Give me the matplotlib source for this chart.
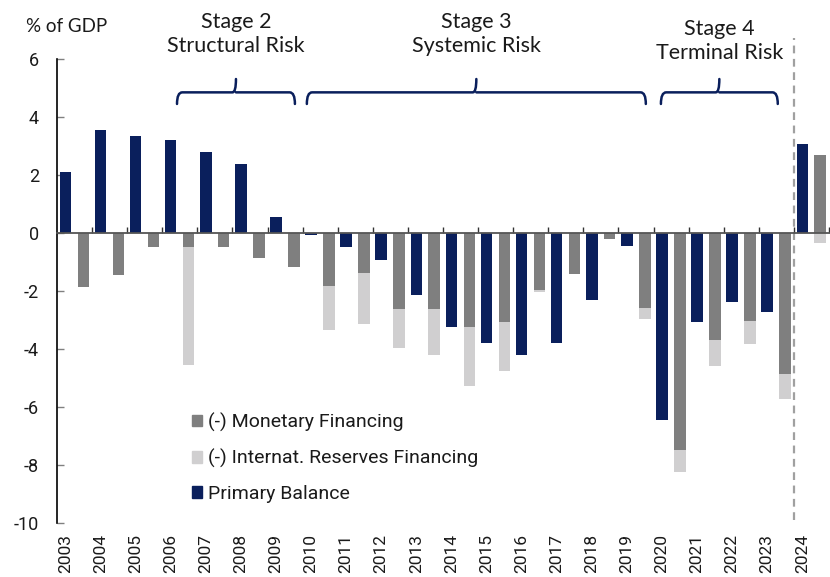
import matplotlib.pyplot as plt
import numpy as np
from matplotlib.path import Path
from matplotlib.patches import PathPatch, Patch

################################################################################
# Data
################################################################################
YEARS = [str(y) for y in range(2003, 2025)]

PRIMARY_BALANCE = [2.12, 3.56, 3.37, 3.23, 2.79, 2.38, 0.55, -0.05, -0.48, -0.92,
                   -2.13, -3.22, -3.77, -4.20, -3.79, -2.30, -0.44, -6.44, -3.05,
                   -2.38, -2.70, 3.08]
MONETARY_FIN = [-1.84, -1.44, -0.46, -0.48, -0.46, -0.84, -1.15, -1.81, -1.36, -2.61,
                -2.61, -3.22, -3.06, -1.96, -1.40, -0.20, -2.59, -7.47, -3.68,
                -3.02, -4.86, 2.70]
RESERVES_FIN = [0.00, 0.00, 0.00, -4.06, 0.00, 0.00, 0.00, -1.52, -1.77, -1.33,
                -1.59, -2.05, -1.68, -0.05, 0.00, 0.00, -0.35, -0.77, -0.90,
                -0.79, -0.86, -0.32]

STAGES = [
    ("Stage 2\nStructural Risk", 3.42, 6.78, 0),
    ("Stage 3\nSystemic Risk", 7.12, 16.78, 0),
    ("Stage 4\nTerminal Risk", 17.21, 20.54, 1),
]

LEGEND_LABELS = ["(-) Monetary Financing", "(-) Internat. Reserves Financing",
                 "Primary Balance"]

################################################################################
# Style
################################################################################
NAVY = "#0a1f5c"
GRAY = "#7f7f7f"
LIGHT = "#d0cfd0"
TEXT_FONT = ["Lato", "DejaVu Sans"]
TICK_FONT = ["Roboto", "DejaVu Sans"]

W, H = 830, 577

################################################################################
# Plot
################################################################################
fig = plt.figure(figsize=(W / 100, H / 100), dpi=100)
ax = fig.add_axes([57 / W, 1 - 523.3 / H, (829 - 57) / W, (523.3 - 59.3) / H])

x = np.arange(len(YEARS))
pb = np.array(PRIMARY_BALANCE)
mf = np.array(MONETARY_FIN)
rf = np.array(RESERVES_FIN)
rf_bottom = np.where(mf < 0, mf, 0)

ax.bar(x + 0.24, pb, width=0.33, color=NAVY, zorder=2)
ax.bar(x + 0.75, mf, width=0.33, color=GRAY, zorder=2)
ax.bar(x + 0.75, rf, width=0.33, bottom=rf_bottom, color=LIGHT, zorder=2)

ax.set_xlim(0, 22)
ax.set_ylim(-10, 6)
ax.set_yticks(np.arange(-10, 7, 2))
ax.set_yticklabels([str(v) for v in range(-10, 7, 2)], family=TICK_FONT,
                   fontsize=13, color="#1a1a1a")
ax.tick_params(axis="y", direction="in", length=5, width=1, color="#808080", pad=13)

ax.spines["top"].set_visible(False)
ax.spines["right"].set_visible(False)
ax.spines["left"].set_color("black")
ax.spines["left"].set_linewidth(1.2)
ax.spines["bottom"].set_position(("data", 0))
ax.spines["bottom"].set_color("#555555")
ax.spines["bottom"].set_linewidth(1.3)
ax.spines["bottom"].set_zorder(3)

ax.set_xticks(np.arange(1, 23))
ax.set_xticklabels([])
ax.tick_params(axis="x", direction="in", length=4, width=1, color="#333333")

sec = ax.secondary_xaxis(0.0)
sec.set_xticks(x + 0.24)
sec.set_xticklabels(YEARS, rotation=90, family=TICK_FONT, fontsize=12.5,
                    color="#1a1a1a", va="top")
sec.tick_params(length=0, pad=7.5)
sec.spines["bottom"].set_visible(False)

# forecast divider
ax.plot([21, 21], [-9.9, 6.75], color="#a0a0a0", lw=1.6, ls=(0, (3.5, 2.5)),
        clip_on=False, zorder=1)

# stage braces
def brace(x0, x1, y=4.86, drop=0.40, tip=0.46, r=0.15):
    xm = (x0 + x1) / 2
    verts = [(x0, y - drop), (x0, y), (x0 + r, y), (xm - 0.1, y), (xm, y),
             (xm, y + tip), (xm, y), (xm + 0.1, y), (x1 - r, y), (x1, y),
             (x1, y - drop)]
    codes = [Path.MOVETO, Path.CURVE3, Path.CURVE3, Path.LINETO, Path.CURVE3,
             Path.LINETO, Path.MOVETO, Path.CURVE3, Path.LINETO, Path.CURVE3,
             Path.CURVE3]
    return PathPatch(Path(verts, codes), fill=False, edgecolor=NAVY, lw=1.8,
                     capstyle="round", clip_on=False)

for label, x0, x1, shift in STAGES:
    ax.add_patch(brace(x0, x1))
    fig.text(((x0 + x1) / 2 * 35.1 + 57) / W, 1 - (34 + 7 * shift) / H, label,
             ha="center", va="center", family=TEXT_FONT, fontsize=15.5,
             linespacing=1.3, color="#1a1a1a")

fig.text(26 / W, 1 - 27 / H, "% of GDP", ha="left", va="center",
         family=TEXT_FONT, fontsize=13.5, color="#1a1a1a")

handles = [Patch(color=GRAY), Patch(color=LIGHT), Patch(color=NAVY)]
leg = fig.legend(handles, LEGEND_LABELS, loc="upper left",
                 bbox_to_anchor=(174 / W, 1 - 395 / H), frameon=False,
                 handlelength=0.56, handleheight=0.56, handletextpad=0.3,
                 labelspacing=0.88, prop={"family": TICK_FONT, "size": 14})
for t in leg.get_texts():
    t.set_color("#1a1a1a")

fig.savefig("out.png", dpi=100)
